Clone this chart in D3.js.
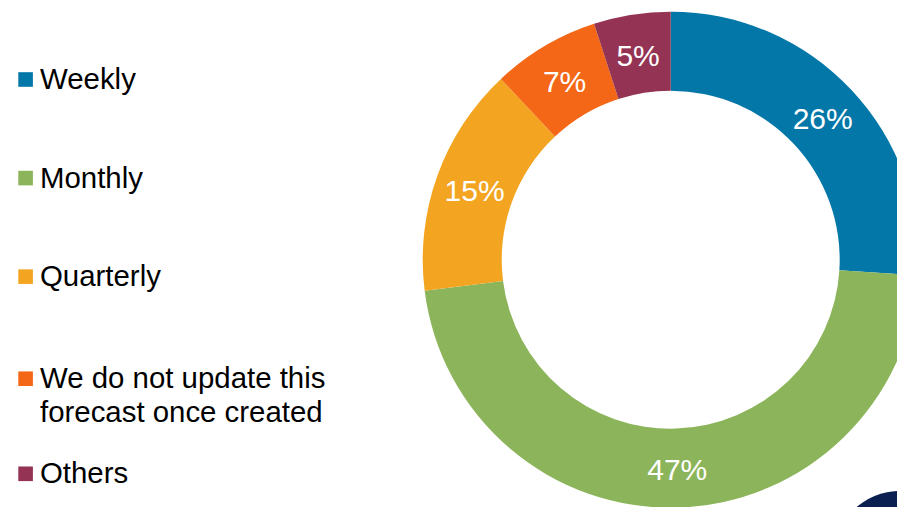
<!DOCTYPE html>
<html>
<head>
<meta charset="utf-8">
<script src="https://cdn.jsdelivr.net/npm/d3@7"></script>
<style>
  html, body { margin: 0; padding: 0; background: #ffffff; }
  svg { display: block; }
  text { font-family: "Liberation Sans", Arial, sans-serif; }
</style>
</head>
<body>
<svg id="chart" width="897" height="507"></svg>
<script>
// Forecast update frequency — share of respondents (%)
const categories = ["Weekly", "Monthly", "Quarterly", "We do not update this forecast once created", "Others"];
const legendLines = [["Weekly"], ["Monthly"], ["Quarterly"], ["We do not update this", "forecast once created"], ["Others"]];
const shares = [26, 47, 15, 7, 5];
const colors = ["#0377a8", "#8cb55b", "#f3a521", "#f36716", "#943353"];

const W = 897, H = 507;
const svg = d3.select("#chart");

const color = d3.scaleOrdinal().domain(categories).range(colors);

// Donut
const cx = 670.7, cy = 259.7;
const outerR = 248, innerR = 169;

const pie = d3.pie().sort(null).value(d => d.value);
const arcs = pie(categories.map((c, i) => ({ name: c, value: shares[i] })));
const arc = d3.arc().innerRadius(innerR).outerRadius(outerR);

const g = svg.append("g").attr("transform", `translate(${cx},${cy})`);

g.selectAll("path.slice")
  .data(arcs)
  .join("path")
  .attr("class", "slice")
  .attr("d", arc)
  .attr("fill", d => color(d.data.name));

g.selectAll("text.value")
  .data(arcs)
  .join("text")
  .attr("class", "value")
  .attr("transform", d => {
    const [x, y] = arc.centroid(d);
    return `translate(${x},${y + 1.5})`;
  })
  .attr("text-anchor", "middle")
  .attr("dominant-baseline", "central")
  .attr("font-size", 30)
  .attr("fill", "#ffffff")
  .text(d => d.data.value + "%");

// Legend
const legendY = d3.scalePoint().domain(categories).range([89, 483.3]);
const lineGap = 33.3;

const items = svg.append("g").attr("class", "legend")
  .selectAll("g.item")
  .data(categories)
  .join("g")
  .attr("class", "item")
  .attr("transform", (d, i) => {
    const shift = legendLines[i].length > 1 ? 3.5 : 0;
    return `translate(0,${legendY(d) + shift})`;
  });

items.append("rect")
  .attr("x", 18.3)
  .attr("y", -16.8)
  .attr("width", 14.6)
  .attr("height", 14.6)
  .attr("fill", d => color(d));

items.each(function (d, i) {
  const t = d3.select(this).append("text")
    .attr("x", 40)
    .attr("y", 0)
    .attr("font-size", 29.4)
    .attr("fill", "#000000");
  legendLines[i].forEach((line, j) => {
    t.append("tspan").attr("x", 40).attr("y", j * lineGap).text(line);
  });
});

// Corner emblem
svg.append("circle")
  .attr("cx", 900)
  .attr("cy", 557.5)
  .attr("r", 66.5)
  .attr("fill", "#0b1f50");
</script>
</body>
</html>
